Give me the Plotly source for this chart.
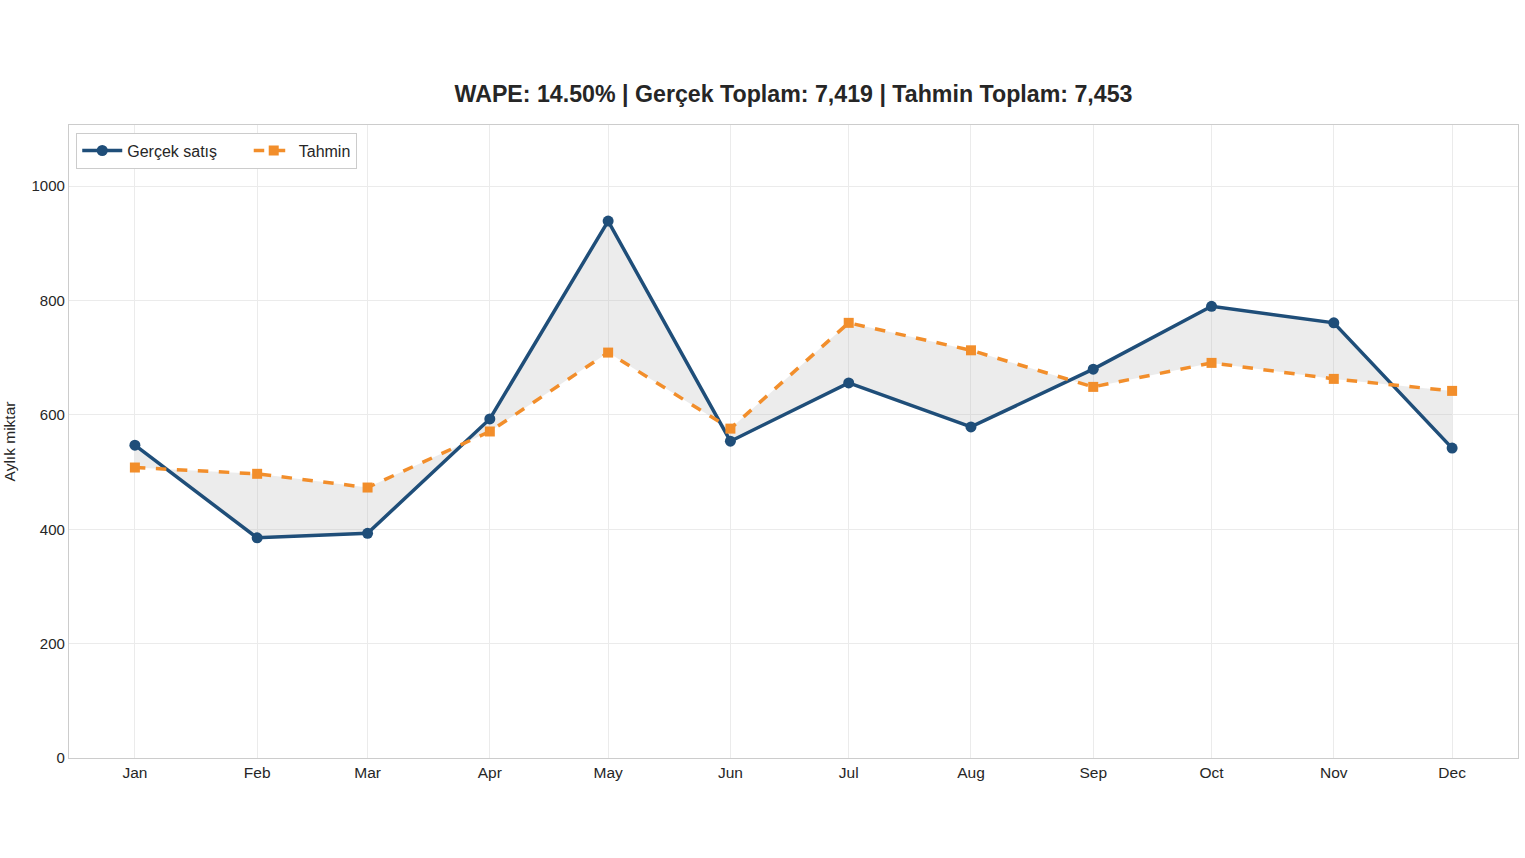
import plotly.graph_objects as go

months = ["2023-01-01", "2023-02-01", "2023-03-01", "2023-04-01", "2023-05-01", "2023-06-01",
          "2023-07-01", "2023-08-01", "2023-09-01", "2023-10-01", "2023-11-01", "2023-12-01"]
month_labels = ["Jan", "Feb", "Mar", "Apr", "May", "Jun", "Jul", "Aug", "Sep", "Oct", "Nov", "Dec"]
actual = [547, 385, 393, 593, 939, 554, 656, 579, 680, 790, 761, 542]
forecast = [508, 497, 473, 571, 709, 576, 761, 713, 649, 691, 663, 642]
yticks = [0, 200, 400, 600, 800, 1000]

BLUE = "#1f4e79"
ORANGE = "#f28e2b"
FONT = "Liberation Sans, Arial, sans-serif"
PAD = "\u00a0" * 6

fig = go.Figure()
# shaded gap between the two series
fig.add_trace(go.Scatter(x=months, y=actual, mode="lines", line=dict(width=0, color="rgba(0,0,0,0)"),
                         showlegend=False, hoverinfo="skip"))
fig.add_trace(go.Scatter(x=months, y=forecast, mode="lines", line=dict(width=0, color="rgba(0,0,0,0)"),
                         fill="tonexty", fillcolor="rgba(180,180,180,0.25)",
                         showlegend=False, hoverinfo="skip"))
fig.add_trace(go.Scatter(x=months, y=actual, mode="lines+markers", name="Gerçek satış" + PAD,
                         line=dict(color=BLUE, width=3.5),
                         marker=dict(symbol="circle", size=11, color=BLUE)))
fig.add_trace(go.Scatter(x=months, y=forecast, mode="lines+markers", name="Tahmin",
                         line=dict(color=ORANGE, width=3.5, dash="dash"),
                         marker=dict(symbol="square", size=10, color=ORANGE)))

fig.update_layout(
    width=1525, height=858,
    paper_bgcolor="white", plot_bgcolor="white",
    margin=dict(l=69, r=7, t=125, b=100),
    font=dict(family=FONT, size=15, color="#262626"),
    title=dict(text="<b>WAPE: 14.50% | Gerçek Toplam: 7,419 | Tahmin Toplam: 7,453</b>",
               x=(69 + 1518) / 2 / 1525, xanchor="center", y=1 - 94 / 858, yanchor="middle",
               font=dict(size=23.2, color="#262626", family=FONT)),
    legend=dict(orientation="h", x=0.005, y=0.988, xanchor="left", yanchor="top",
                traceorder="normal",
                bgcolor="white", bordercolor="#cccccc", borderwidth=1,
                font=dict(size=16, color="#262626"), itemwidth=40),
    showlegend=True,
)
fig.update_xaxes(
    type="date", range=["2022-12-15 07:00", "2023-12-17 17:00"],
    tickvals=months, ticktext=month_labels,
    showgrid=True, gridcolor="#ebebeb", gridwidth=1,
    showline=True, linecolor="#cccccc", linewidth=1.2, mirror=True,
    ticks="", tickfont=dict(size=15.5, color="#262626"), zeroline=False, automargin=False,
)
fig.update_yaxes(
    range=[0, 1107], tickvals=yticks,
    showgrid=True, gridcolor="#ebebeb", gridwidth=1,
    showline=True, linecolor="#cccccc", linewidth=1.2, mirror=True,
    ticks="", tickfont=dict(size=15, color="#262626"), zeroline=False, automargin=False,
    title=dict(text="Aylık miktar", font=dict(size=15.5, color="#262626"), standoff=12),
)

fig.write_html("out.html")
